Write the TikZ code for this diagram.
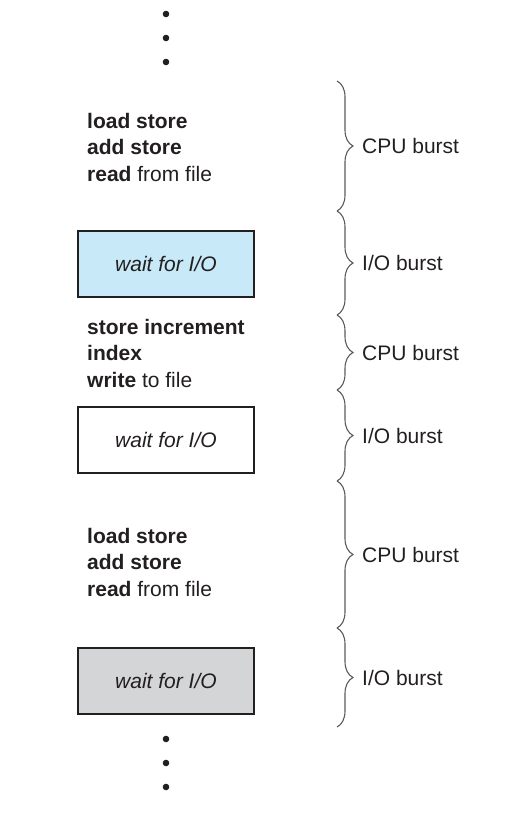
\documentclass[tikz,border=0pt]{standalone}
\usepackage{fontspec}
\setmainfont{Liberation Sans}
\usepackage{xcolor}
\usepackage{tikz}
\usetikzlibrary{positioning,decorations.pathreplacing}

\definecolor{inkc}{HTML}{231F20}
\definecolor{bracec}{HTML}{5A5B5D}
\definecolor{iobluec}{HTML}{C7E9F8}
\definecolor{iograyc}{HTML}{D4D5D6}

\begin{document}
\begin{tikzpicture}[
  x=1pt, y=-1pt,
  code/.style={anchor=west, align=left, inner sep=0pt, text=inkc,
               font=\fontsize{21}{26.5}\selectfont},
  waitbox/.style={draw=inkc, line width=1.2pt, minimum width=176pt,
                  minimum height=66pt, inner sep=0pt, text=inkc,
                  font=\fontsize{21}{26}\selectfont\itshape},
  brc/.style={draw=bracec, line width=1.1pt,
              decorate, decoration={brace, amplitude=16pt}},
  lbl/.style={anchor=west, inner sep=0pt, text=inkc,
              font=\fontsize{21}{26}\selectfont},
  dot/.style={circle, fill=inkc, inner sep=0pt, minimum size=6.6pt}
]
\useasboundingbox (0,0) rectangle (520,826);

% dots above and below
\foreach \y [count=\i] in {14,38,62} {
  \node[dot] (top\i) at (166,\y) {};
}
\foreach \y [count=\i] in {739,763,787} {
  \node[dot] (bot\i) at (166,\y) {};
}

% instructions and waits
\node[code] (cpua) at (87,147) {\textbf{load store}\\\textbf{add store}\\\textbf{read} from file};
\node[waitbox, fill=iobluec] (ioa) at (166,264) {wait for I/O};
\node[code] (cpub) at (87,353) {\textbf{store increment}\\\textbf{index}\\\textbf{write} to file};
\node[waitbox, fill=white] (iob) at (166,440) {wait for I/O};
\node[code] (cpuc) at (87,562) {\textbf{load store}\\\textbf{add store}\\\textbf{read} from file};
\node[waitbox, fill=iograyc] (ioc) at (166,681) {wait for I/O};

% brace ends
\coordinate (b0) at (337,81);
\coordinate (b1) at (337,211);
\coordinate (b2) at (337,315);
\coordinate (b3) at (337,390);
\coordinate (b4) at (337,481);
\coordinate (b5) at (337,628);
\coordinate (b6) at (337,727);

\draw[brc] (b0) -- (b1);
\draw[brc] (b1) -- (b2);
\draw[brc] (b2) -- (b3);
\draw[brc] (b3) -- (b4);
\draw[brc] (b4) -- (b5);
\draw[brc] (b5) -- (b6);

% burst labels
\node[lbl] (burst1) at (362,146) {CPU burst};
\node[lbl] (burst2) at (362,263) {I/O burst};
\node[lbl] (burst3) at (362,353) {CPU burst};
\node[lbl] (burst4) at (362,436) {I/O burst};
\node[lbl] (burst5) at (362,555) {CPU burst};
\node[lbl] (burst6) at (362,678) {I/O burst};
\end{tikzpicture}
\end{document}
